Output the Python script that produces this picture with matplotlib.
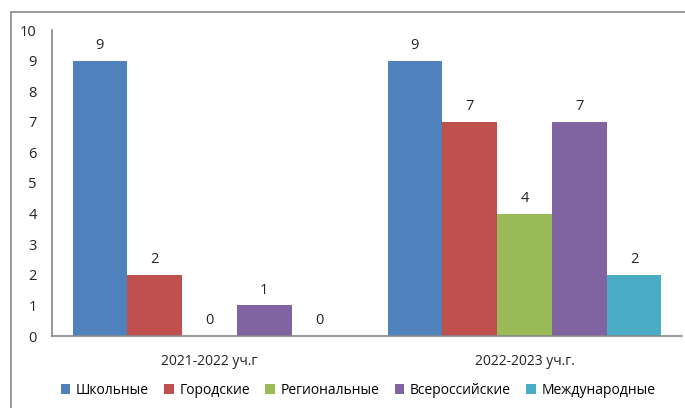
import numpy as np
import matplotlib.pyplot as plt
from matplotlib.patches import Rectangle

plt.rcParams['font.family'] = ['Open Sans', 'DejaVu Sans']

years = ['2021-2022 уч.г', '2022-2023 уч.г.']
series_names = ['Школьные', 'Городские', 'Региональные', 'Всероссийские', 'Международные']
shkolnye = [9, 9]
gorodskie = [2, 7]
regionalnye = [0, 4]
vserossiyskie = [1, 7]
mezhdunarodnye = [0, 2]
colors = ['#4F81BD', '#C0504D', '#9BBB59', '#8064A2', '#4BACC6']

values = [shkolnye, gorodskie, regionalnye, vserossiyskie, mezhdunarodnye]

W, H = 685, 408
fig = plt.figure(figsize=(W / 100, H / 100), dpi=100)
ax = fig.add_axes([52 / W, (H - 336) / H, 630 / W, 306 / H])

x = np.arange(len(years))
bw = 274 / 315 / 5
for i, (name, vals) in enumerate(zip(series_names, values)):
    pos = x - 2 * bw + i * bw
    bars = ax.bar(pos, vals, width=bw, color=colors[i], label=name)
    for b, v in zip(bars, vals):
        ax.text(b.get_x() + b.get_width() / 2, v + 0.5, str(v),
                ha='center', va='center', fontsize=10.5, color='#222222')

ax.set_xlim(-0.5, 1.5)
ax.set_ylim(0, 10)
ax.set_yticks(range(0, 11))
ax.set_xticks(x)
ax.set_xticklabels(years, fontsize=10)
ax.tick_params(axis='both', length=0, labelsize=10.5, colors='#222222')
ax.tick_params(axis='x', labelsize=10)
ax.tick_params(axis='y', pad=11)
ax.tick_params(axis='x', pad=13)
for s in ['top', 'right']:
    ax.spines[s].set_visible(False)
for s in ['left', 'bottom']:
    ax.spines[s].set_color('#888888')
    ax.spines[s].set_linewidth(1.2)

fig.legend(loc='center', bbox_to_anchor=(358 / W, 1 - 390 / H), ncol=5,
           frameon=False, fontsize=10, handlelength=0.7, handleheight=0.7,
           handletextpad=0.4, columnspacing=1.1)

# chart area border
fig.patches.append(Rectangle((11 / W, -0.1), 1.2, 1 - 12 / H + 0.1,
                             transform=fig.transFigure, fill=False,
                             edgecolor='#888888', linewidth=1.2))

fig.savefig('out.png', dpi=100)
